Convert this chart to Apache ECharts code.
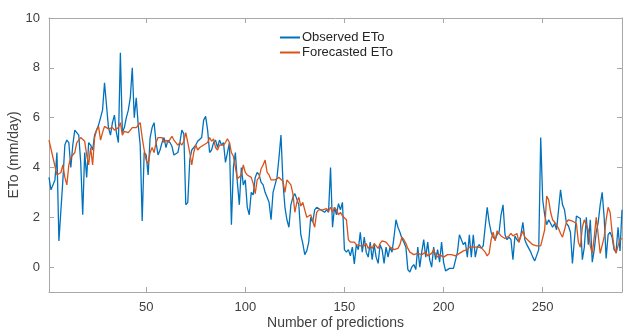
<!DOCTYPE html>
<html><head><meta charset="utf-8">
<script src="https://cdn.jsdelivr.net/npm/echarts@6/dist/echarts.min.js"></script>
<style>html,body{margin:0;padding:0;background:#fff}#c{width:624px;height:334px}</style>
</head><body><div id="c"></div>
<script>
const observed = [3.6,3.1,3.15,3.5,4.6,1.05,1.1,3.5,4.9,5.1,5.0,4.0,4.9,5.5,5.4,5.3,4.2,2.1,4.6,3.6,
5.0,4.9,4.7,5.3,5.5,5.7,6.0,6.3,7.4,7.35,5.6,5.3,5.8,6.1,5.4,5.0,8.6,5.4,5.6,6.0,
6.3,6.8,8.0,6.0,6.8,5.7,4.9,1.85,4.6,4.5,3.7,5.2,5.6,5.8,5.0,4.5,4.7,5.0,5.2,4.8,
5.1,5.0,4.85,4.5,4.45,4.6,5.0,5.5,5.35,2.5,2.6,4.3,4.7,4.75,4.9,5.05,5.0,5.2,5.9,6.05,
5.5,4.6,4.7,5.0,5.1,4.8,5.1,4.9,5.0,4.2,4.6,5.0,1.7,4.0,4.6,3.4,2.5,4.0,3.3,3.5,
2.4,2.1,3.0,2.9,3.6,3.8,3.7,3.4,3.3,3.0,2.8,2.6,1.9,3.0,3.0,3.6,4.4,5.3,3.4,2.4,
1.9,1.6,2.5,2.8,2.95,2.9,2.5,1.3,0.95,0.5,0.65,1.0,2.0,1.8,2.3,2.4,2.4,2.3,2.3,2.2,
2.3,2.2,4.0,1.6,2.4,2.1,2.55,2.3,2.6,0.7,0.6,0.7,0.45,0.8,0.13,0.9,0.7,1.4,0.6,1.2,
0.6,0.4,1.0,0.3,0.9,0.4,0.15,0.9,0.7,0.15,0.8,0.4,0.8,0.6,1.2,1.9,1.6,1.4,1.15,1.0,
0.8,-0.1,-0.2,0.0,0.1,-0.1,0.8,0.0,0.6,1.1,0.4,1.0,0.3,0.0,0.8,0.3,0.7,0.2,1.0,0.2,
-0.15,-0.2,-0.05,-0.1,-0.05,0.0,0.6,1.3,1.1,0.9,1.0,0.4,1.3,0.4,1.3,0.4,0.8,0.9,0.75,0.85,
0.8,2.4,1.8,1.4,1.2,1.1,1.3,1.4,2.1,2.5,1.3,1.1,1.2,1.1,0.3,1.25,1.1,1.0,1.3,1.8,
1.1,0.9,0.85,0.6,0.4,0.25,0.2,0.7,5.2,2.7,2.1,1.7,1.9,1.9,1.6,1.75,1.5,2.3,3.1,2.5,
2.3,1.75,1.65,1.4,0.15,1.1,2.05,2.0,1.95,0.3,0.8,2.0,0.9,1.9,0.2,0.7,1.4,1.8,2.5,3.0,
2.0,0.35,1.3,1.4,1.2,0.7,0.6,1.6,0.65,2.3];
const forecasted = [5.1,5.05,4.4,4.35,3.7,3.75,3.8,4.1,3.6,3.3,4.1,4.4,4.5,4.6,5.0,5.1,5.2,5.15,5.05,4.5,
4.1,4.8,4.1,5.2,5.5,5.65,5.1,5.4,5.65,5.6,5.55,5.5,5.6,5.5,5.55,5.6,5.8,5.3,5.45,5.5,
5.4,5.5,5.6,5.65,5.6,5.7,5.8,5.2,4.7,4.3,4.14,4.6,4.8,4.6,5.0,5.2,5.15,5.2,5.0,5.1,
5.0,5.05,5.25,5.1,5.0,4.9,5.0,4.9,5.05,5.4,5.0,4.6,4.1,4.6,4.9,4.7,4.8,4.8,4.9,4.95,
5.0,5.2,5.05,5.15,4.8,4.7,4.9,4.85,4.9,5.0,5.15,5.0,4.6,4.45,4.4,3.55,3.6,3.7,4.1,3.8,
3.7,3.75,3.6,3.35,2.95,3.5,3.6,3.95,4.1,4.3,3.8,3.7,3.5,3.55,3.5,3.55,3.6,3.65,3.45,3.0,
3.5,3.45,3.3,2.95,2.2,2.6,2.8,2.45,2.6,2.3,2.0,1.95,2.1,1.85,1.6,2.2,2.3,2.25,2.3,2.25,
2.35,2.25,2.4,2.2,2.4,2.3,2.1,2.2,2.05,2.0,1.9,1.1,1.0,1.05,1.0,0.9,0.95,0.85,0.9,0.85,
0.95,0.75,0.85,0.75,0.95,0.9,0.75,0.95,1.05,1.05,1.0,0.9,0.8,0.75,0.7,0.72,0.75,0.9,1.2,1.1,
0.95,0.75,0.6,0.55,0.5,0.45,0.55,0.5,0.5,0.55,0.6,0.45,0.5,0.55,0.7,0.5,0.4,0.5,0.45,0.4,
0.45,0.5,0.55,0.5,0.5,0.45,0.45,0.55,0.55,0.65,0.7,0.7,0.8,0.82,0.8,0.78,0.8,0.85,0.78,0.75,
0.6,0.45,0.55,1.1,1.4,1.05,1.45,1.4,1.25,1.2,1.15,1.2,1.25,1.35,1.25,1.2,1.35,1.0,1.25,1.45,
1.2,1.2,1.05,1.0,0.9,0.85,0.85,0.8,0.85,0.9,1.5,2.85,2.7,2.2,1.9,1.8,1.7,1.55,1.35,1.2,
1.5,1.8,1.9,1.85,1.85,1.85,1.75,1.0,0.8,1.6,1.9,1.9,1.5,0.85,0.55,1.2,2.0,1.3,0.55,0.55,
1.2,1.9,2.4,2.2,1.4,0.8,0.55,0.85,1.1,1.15];
const xTicks = [50,100,150,200,250];
const yTicks = [0,2,4,6,8,10];
const seriesNames = ['Observed ETo','Forecasted ETo'];

const toPairs = arr => arr.map((v,i)=>[i+1,v]);
const axisGray = '#a8a8a8';
const labelGray = '#404040';
const font = 'Liberation Sans, Arial, Helvetica, sans-serif';

const chart = echarts.init(document.getElementById('c'), null, {renderer:'canvas'});
const baseX = {
  type:'value', min:1, max:observed.length,
  axisLine:{show:true, onZero:false, lineStyle:{color:axisGray, width:1}},
  axisTick:{show:true, inside:true, length:5, lineStyle:{color:axisGray}, customValues:xTicks},
  splitLine:{show:false}
};
const baseY = {
  type:'value', min:-1, max:10,
  axisLine:{show:true, onZero:false, lineStyle:{color:axisGray, width:1}},
  axisTick:{show:true, inside:true, length:5, lineStyle:{color:axisGray}, customValues:yTicks},
  splitLine:{show:false}
};
chart.setOption({
  animation:false,
  backgroundColor:'#fff',
  grid:{left:49, right:2, top:18, bottom:42, containLabel:false, outerBoundsMode:'none'},
  legend:{
    orient:'vertical', left:275, top:26, itemGap:2,
    itemWidth:20, itemHeight:2, icon:'rect',
    textStyle:{fontFamily:font, fontSize:13, color:'#262626', padding:[0,0,0,-3]},
    data:seriesNames
  },
  xAxis:[
    Object.assign({}, baseX, {position:'bottom',
      name:'Number of predictions', nameLocation:'middle', nameGap:24, nameMoveOverlap:false,
      nameTextStyle:{fontFamily:font, fontSize:14, color:labelGray},
      axisLabel:{show:true, customValues:xTicks, fontFamily:font, fontSize:13, color:labelGray, margin:9}}),
    Object.assign({}, baseX, {position:'top', axisLabel:{show:false}})
  ],
  yAxis:[
    Object.assign({}, baseY, {position:'left',
      name:'ETo (mm/day)', nameLocation:'middle', nameGap:28, nameMoveOverlap:false,
      nameTextStyle:{fontFamily:font, fontSize:14, color:labelGray},
      axisLabel:{show:true, customValues:yTicks, fontFamily:font, fontSize:13, color:labelGray, margin:9}}),
    Object.assign({}, baseY, {position:'right', axisLabel:{show:false}})
  ],
  series:[
    {name:seriesNames[0], type:'line', data:toPairs(observed), showSymbol:false, symbol:'none',
     lineStyle:{color:'#0072BD', width:1.3}, itemStyle:{color:'#0072BD'}, z:2},
    {name:seriesNames[1], type:'line', data:toPairs(forecasted), showSymbol:false, symbol:'none',
     lineStyle:{color:'#D95319', width:1.3}, itemStyle:{color:'#D95319'}, z:3}
  ]
});
</script></body></html>
